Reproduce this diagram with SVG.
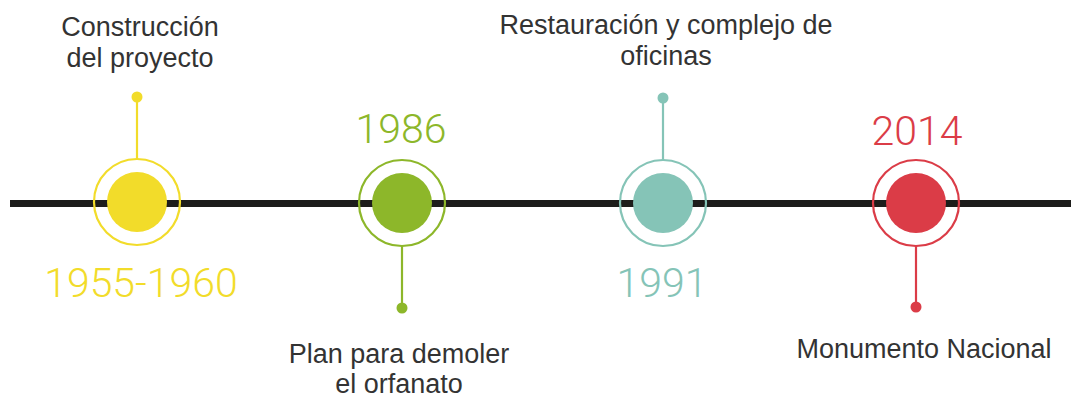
<svg xmlns="http://www.w3.org/2000/svg" width="1071" height="398" viewBox="0 0 1071 398">
<style>
.lbl{font-family:"Liberation Sans",Arial,sans-serif;font-size:27px;fill:#333333;text-anchor:middle}
.yr{font-family:Roboto,"Liberation Sans",sans-serif;font-weight:300;font-size:41px;text-anchor:middle}
.ring{fill:none;stroke-width:2.2}
.stem{stroke-width:2.2}
</style>
<rect width="1071" height="398" fill="#ffffff"/>
<g id="connectors">
<line x1="10" y1="203.5" x2="1071" y2="203.5" stroke="#1d1d1b" stroke-width="7"/>
</g>
<g id="node-1955">
<line class="stem" x1="137" y1="97" x2="137" y2="160" stroke="#f2dc2a"/>
<circle cx="137" cy="97" r="5.5" fill="#f2dc2a"/>
<circle class="ring" cx="137" cy="202" r="43" stroke="#f2dc2a"/>
<circle cx="137" cy="202" r="30" fill="#f2dc2a"/>
<text class="lbl" x="140" y="36">Construcción</text>
<text class="lbl" x="140" y="67">del proyecto</text>
<text class="yr" x="141" y="297" fill="#f2dc2a">1955-1960</text>
</g>
<g id="node-1986">
<line class="stem" x1="402" y1="246" x2="402" y2="308" stroke="#8db72a"/>
<circle cx="402" cy="308" r="5.5" fill="#8db72a"/>
<circle class="ring" cx="402" cy="203" r="43" stroke="#8db72a"/>
<circle cx="402" cy="203" r="30" fill="#8db72a"/>
<text class="yr" x="401" y="143" fill="#8db72a">1986</text>
<text class="lbl" x="399" y="363">Plan para demoler</text>
<text class="lbl" x="399" y="393">el orfanato</text>
</g>
<g id="node-1991">
<line class="stem" x1="663" y1="98" x2="663" y2="161" stroke="#85c4b7"/>
<circle cx="663" cy="98" r="5.5" fill="#85c4b7"/>
<circle class="ring" cx="663" cy="203" r="43" stroke="#85c4b7"/>
<circle cx="663" cy="203" r="30" fill="#85c4b7"/>
<text class="lbl" x="666" y="34">Restauración y complejo de</text>
<text class="lbl" x="666" y="65">oficinas</text>
<text class="yr" x="662" y="297" fill="#85c4b7">1991</text>
</g>
<g id="node-2014">
<line class="stem" x1="916" y1="246" x2="916" y2="307" stroke="#db3c47"/>
<circle cx="916" cy="307" r="5.5" fill="#db3c47"/>
<circle class="ring" cx="916" cy="203" r="43" stroke="#db3c47"/>
<circle cx="916" cy="203" r="30" fill="#db3c47"/>
<text class="yr" x="917" y="145" fill="#db3c47">2014</text>
<text class="lbl" x="924" y="358">Monumento Nacional</text>
</g>
</svg>
